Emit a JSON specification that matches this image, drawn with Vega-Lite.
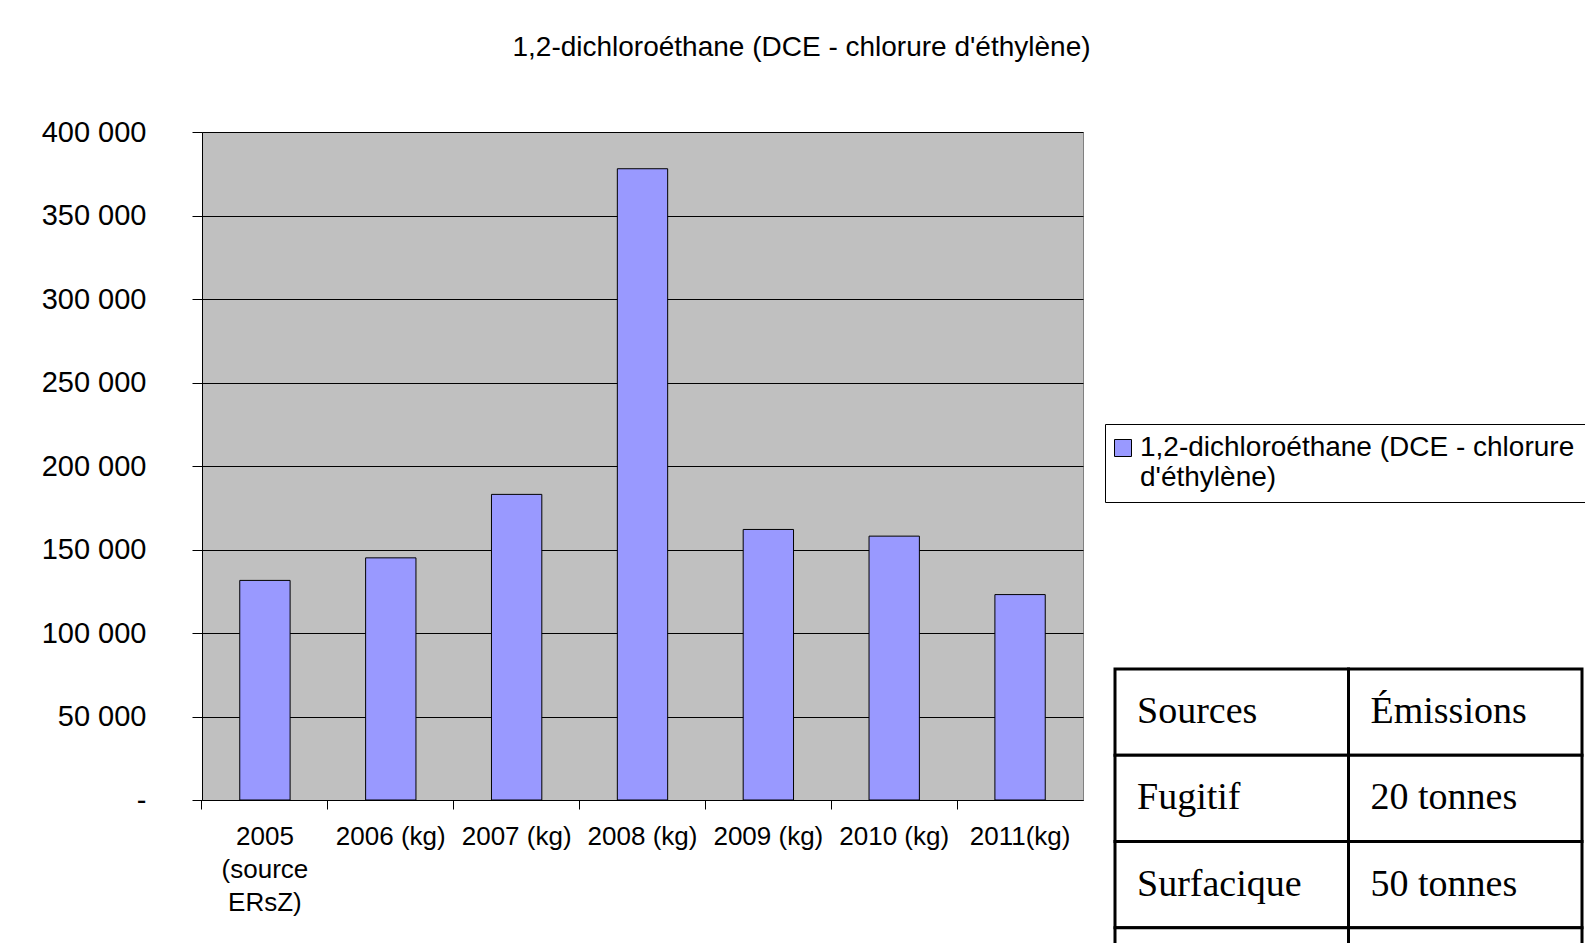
{
  "$schema": "https://vega.github.io/schema/vega-lite/v6.json",
  "padding": {"left": 41, "top": 34, "right": 0, "bottom": 0},
  "background": "white",
  "title": {
    "text": "1,2-dichloroéthane (DCE - chlorure d'éthylène)",
    "fontSize": 28,
    "font": "Liberation Sans",
    "fontWeight": "normal",
    "color": "black",
    "anchor": "middle",
    "dx": 159,
    "offset": 56
  },
  "config": {"font": "Liberation Sans"},
  "width": 881,
  "height": 668,
  "view": {"fill": "#C0C0C0", "stroke": "#808080"},
  "layer": [
    {
      "data": {
        "values": [
          {"annee": "2005 (source ERsZ)", "emissions": 131500, "serie": "1,2-dichloroéthane (DCE - chlorure d'éthylène)"},
          {"annee": "2006 (kg)", "emissions": 145000, "serie": "1,2-dichloroéthane (DCE - chlorure d'éthylène)"},
          {"annee": "2007 (kg)", "emissions": 183000, "serie": "1,2-dichloroéthane (DCE - chlorure d'éthylène)"},
          {"annee": "2008 (kg)", "emissions": 378000, "serie": "1,2-dichloroéthane (DCE - chlorure d'éthylène)"},
          {"annee": "2009 (kg)", "emissions": 162000, "serie": "1,2-dichloroéthane (DCE - chlorure d'éthylène)"},
          {"annee": "2010 (kg)", "emissions": 158000, "serie": "1,2-dichloroéthane (DCE - chlorure d'éthylène)"},
          {"annee": "2011(kg)", "emissions": 123000, "serie": "1,2-dichloroéthane (DCE - chlorure d'éthylène)"}
        ]
      },
      "mark": {"type": "bar", "stroke": "black", "strokeWidth": 1},
      "encoding": {
        "x": {
          "field": "annee",
          "type": "nominal",
          "sort": null,
          "scale": {"paddingInner": 0.6, "paddingOuter": 0.3},
          "axis": {
            "title": null,
            "labelAngle": 0,
            "labelFontSize": 26,
            "labelColor": "black",
            "labelLineHeight": 33,
            "labelPadding": 14,
            "bandPosition": -0.75,
            "tickSize": 9,
            "tickColor": "black",
            "domainColor": "black",
            "labelExpr": "indexof(datum.value, 'source') >= 0 ? split(datum.value, ' ') : datum.value"
          }
        },
        "y": {
          "field": "emissions",
          "type": "quantitative",
          "scale": {"domain": [0, 400000], "nice": false},
          "axis": {
            "title": null,
            "values": [0, 50000, 100000, 150000, 200000, 250000, 300000, 350000, 400000],
            "labelFontSize": 29,
            "labelColor": "black",
            "labelPadding": 46,
            "tickSize": 10,
            "tickColor": "black",
            "domainColor": "black",
            "grid": true,
            "gridColor": "black",
            "gridOpacity": 1,
            "labelExpr": "datum.value == 0 ? '-' : replace(format(datum.value, ','), ',', ' ')"
          }
        },
        "color": {
          "field": "serie",
          "type": "nominal",
          "scale": {"range": ["#9999FF"]},
          "legend": {
            "title": null,
            "orient": "none",
            "legendX": 903,
            "legendY": 292,
            "strokeColor": "black",
            "fillColor": "white",
            "padding": 10,
            "labelFontSize": 28,
            "labelColor": "black",
            "labelLimit": 0,
            "labelOffset": 3,
            "symbolOffset": -6,
            "symbolType": "square",
            "symbolSize": 289,
            "symbolStrokeColor": "black",
            "symbolStrokeWidth": 1,
            "labelExpr": "[slice(datum.label, 0, 34), slice(datum.label, 35)]"
          }
        }
      }
    },
    {
      "data": {
        "values": [
          {"ligne": 1, "colonne": "Sources", "texte": "Sources"},
          {"ligne": 1, "colonne": "Émissions", "texte": "Émissions"},
          {"ligne": 2, "colonne": "Sources", "texte": "Fugitif"},
          {"ligne": 2, "colonne": "Émissions", "texte": "20 tonnes"},
          {"ligne": 3, "colonne": "Sources", "texte": "Surfacique"},
          {"ligne": 3, "colonne": "Émissions", "texte": "50 tonnes"},
          {"ligne": 4, "colonne": "Sources", "texte": ""},
          {"ligne": 4, "colonne": "Émissions", "texte": ""}
        ]
      },
      "encoding": {
        "x": {"field": "colonne", "type": "nominal", "sort": null, "scale": {"type": "band", "paddingInner": 0, "paddingOuter": 0, "range": [913, 1380]}, "axis": null},
        "y": {"field": "ligne", "type": "ordinal", "scale": {"type": "band", "paddingInner": 0, "paddingOuter": 0, "range": [537, 882]}, "axis": null}
      },
      "layer": [
        {"mark": {"type": "rect", "fill": "white", "stroke": "black", "strokeWidth": 3}},
        {
          "mark": {"type": "text", "align": "left", "baseline": "middle", "dx": 22, "font": "Liberation Serif", "fontSize": 38, "color": "black"},
          "encoding": {
            "text": {"field": "texte"},
            "x": {"field": "colonne", "type": "nominal", "sort": null, "bandPosition": 0}
          }
        }
      ]
    }
  ],
  "resolve": {"scale": {"x": "independent", "y": "independent"}}
}
